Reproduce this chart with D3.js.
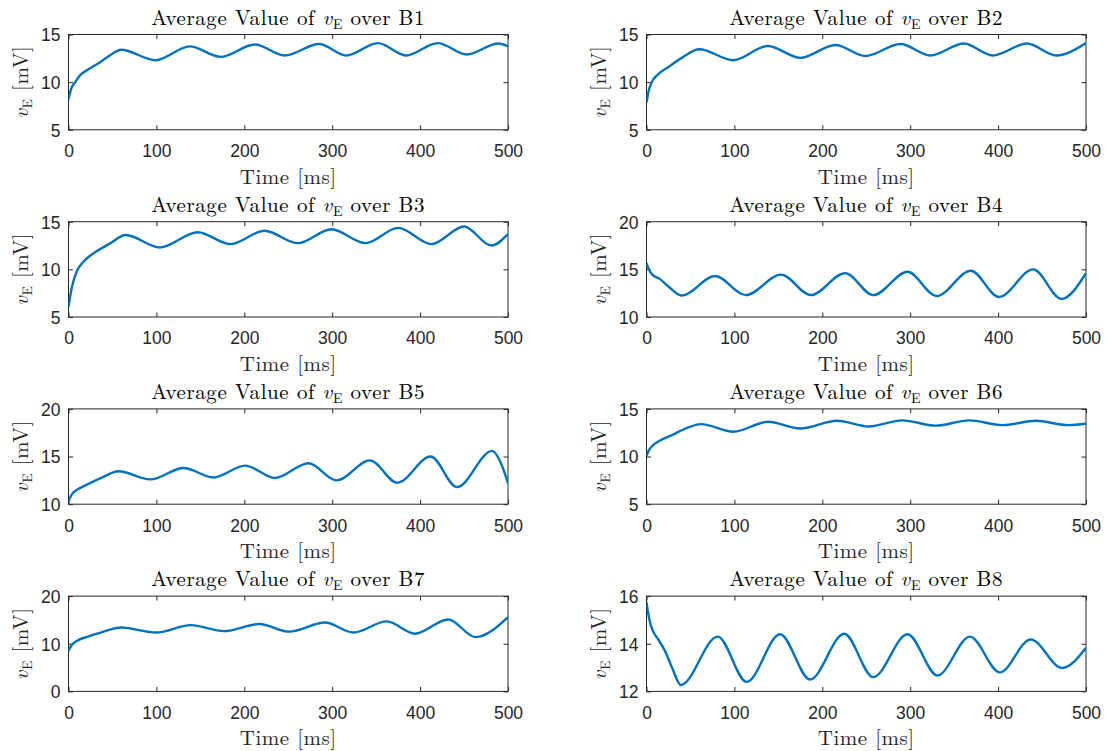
<!DOCTYPE html>
<html>
<head>
<meta charset="utf-8">
<script src="https://cdn.jsdelivr.net/npm/d3@7"></script>
<style>
    body { margin: 0; background: #fff; }
    svg { display: block; }
</style>
</head>
<body>
<svg id="chart" width="1110" height="751"></svg>
<script>
// [time ms, v_E mV] (extrema plus a few points on the initial transient)
const B1 = [[0,8.2],[3,9.3],[7.6,10.0],[13,10.7],[21,11.25],[36,12.1],[47,12.8],[60,13.4],[99,12.3],[138,13.75],[173,12.65],[212,13.95],[246,12.8],[285,14.0],[316,12.8],[352,14.1],[384,12.8],[420,14.1],[453,12.9],[489,14.05],[500,13.75]]
const B2 = [[0,7.85],[2,8.9],[6,10.0],[13,10.8],[25,11.6],[41,12.6],[60,13.45],[99,12.3],[138,13.8],[175,12.55],[215,13.9],[249,12.75],[289,14.0],[323,12.8],[361,14.05],[394,12.8],[433,14.05],[466,12.8],[500,14.1]]
const B3 = [[0,6.1],[4,8.2],[9.5,9.8],[17,10.8],[32,11.9],[47,12.7],[65,13.6],[104,12.3],[147,13.9],[184,12.65],[223,14.05],[261,12.75],[299,14.2],[338,12.75],[375,14.35],[413,12.65],[450,14.5],[481,12.5],[500,13.7]]
const B4 = [[0,15.65],[3,14.95],[6,14.5],[15,14.0],[25,13.2],[40,12.25],[78,14.3],[113,12.3],[153,14.45],[187,12.3],[226,14.6],[258,12.3],[297,14.75],[330,12.2],[369,14.85],[401,12.1],[440,15.0],[472,11.9],[500,14.6]]
const B5 = [[0,10.3],[4,11.05],[9.5,11.5],[21,12.05],[36,12.7],[57,13.45],[93,12.6],[131,13.8],[165,12.8],[201,14.05],[235,12.75],[273,14.3],[305,12.5],[343,14.6],[374,12.25],[412,15.0],[442,11.8],[482,15.6],[492,14.3],[500,12.2]]
const B6 = [[0,10.07],[3,10.7],[7,11.15],[15,11.65],[29,12.25],[45,12.95],[62,13.4],[99,12.6],[138,13.65],[175,12.95],[217,13.75],[253,13.15],[291,13.8],[329,13.25],[367,13.8],[405,13.3],[443,13.75],[480,13.3],[500,13.45]]
const B7 = [[0,8.55],[4,9.8],[9.5,10.6],[21,11.45],[36,12.3],[60,13.4],[100,12.35],[139,13.9],[177,12.65],[217,14.15],[251,12.55],[292,14.45],[324,12.35],[362,14.7],[394,12.1],[432,15.1],[463,11.4],[500,15.6]]
const B8 = [[0,15.75],[2,15.26],[4.4,14.84],[7,14.56],[13,14.2],[21,13.7],[29,13.0],[39,12.27],[81,14.3],[114,12.4],[152,14.4],[186,12.5],[225,14.42],[258,12.6],[297,14.4],[331,12.67],[368,14.3],[402,12.8],[437,14.18],[473,12.98],[500,13.83]]

const regions = ['B1', 'B2', 'B3', 'B4', 'B5', 'B6', 'B7', 'B8']
const series = [B1, B2, B3, B4, B5, B6, B7, B8]
const yDomains = [[5,15],[5,15],[5,15],[10,20],[10,20],[5,15],[0,20],[12,16]]
const yTickVals = [[5,10,15],[5,10,15],[5,10,15],[10,15,20],[10,15,20],[5,10,15],[0,10,20],[12,14,16]]
const xTickVals = [0, 100, 200, 300, 400, 500]

const colX = [68.5, 646.5]
const rowY = [34.5, 221.7, 408.9, 596.1]
const W = 439.5, H = 95.3
const tick = 4.5
const serif = '"Latin Modern Roman", "CMU Serif", "Liberation Serif", serif'
const sans = '"Liberation Sans", Arial, Helvetica, sans-serif'
const ink = '#262626'
const fmt = d3.format('d')

const svg = d3.select('#chart')

series.forEach((data, i) => {
    let left = colX[i % 2], top = rowY[Math.floor(i / 2)]
    let x = d3.scaleLinear().domain([0, 500]).range([0, W])
    let y = d3.scaleLinear().domain(yDomains[i]).range([H, 0])

    let g = svg.append('g').attr('transform', `translate(${left},${top})`)

    g.append('clipPath').attr('id', 'clip' + i)
        .append('rect').attr('width', W).attr('height', H)

    let styleAxis = a => {
        a.select('.domain').remove()
        a.selectAll('line').attr('stroke', ink)
        a.selectAll('text').attr('fill', ink).style('font-family', sans).style('font-size', '17.5px')
    }

    g.append('g').attr('transform', `translate(0,${H})`)
        .call(d3.axisBottom(x).tickValues(xTickVals).tickFormat(fmt).tickSizeInner(-tick).tickSizeOuter(0).tickPadding(15))
        .call(styleAxis)
    g.append('g')
        .call(d3.axisTop(x).tickValues(xTickVals).tickSizeInner(-tick).tickSizeOuter(0).tickFormat(''))
        .call(styleAxis)
    g.append('g')
        .call(d3.axisLeft(y).tickValues(yTickVals[i]).tickFormat(fmt).tickSizeInner(-tick).tickSizeOuter(0).tickPadding(8))
        .call(styleAxis)
        .selectAll('text').attr('dy', '0.36em')
    g.append('g').attr('transform', `translate(${W},0)`)
        .call(d3.axisRight(y).tickValues(yTickVals[i]).tickSizeInner(-tick).tickSizeOuter(0).tickFormat(''))
        .call(styleAxis)

    g.append('rect')
        .attr('width', W).attr('height', H)
        .attr('fill', 'none').attr('stroke', ink).attr('stroke-width', 1)

    g.append('path')
        .datum(data)
        .attr('clip-path', `url(#clip${i})`)
        .attr('fill', 'none')
        .attr('stroke', '#0072BD')
        .attr('stroke-width', 2.4)
        .attr('d', d3.line().x(d => x(d[0])).y(d => y(d[1])).curve(d3.curveMonotoneX))

    // title
    let title = g.append('text')
        .attr('x', W / 2).attr('y', -10)
        .attr('text-anchor', 'middle')
        .style('font-family', serif).style('font-size', '21px')
        .style('letter-spacing', '0.6px')
        .attr('fill', '#000')
    title.append('tspan').text('Average Value of ')
    title.append('tspan').style('font-style', 'italic').text('v')
    title.append('tspan').style('font-size', '14px').attr('dy', 4).text('E')
    title.append('tspan').attr('dy', -4).text(' over ' + regions[i])

    // x label
    g.append('text')
        .attr('x', W / 2).attr('y', H + 54)
        .attr('text-anchor', 'middle')
        .style('font-family', serif).style('font-size', '21px')
        .style('letter-spacing', '0.5px')
        .attr('fill', ink)
        .text('Time [ms]')

    // y label
    let yl = g.append('text')
        .attr('transform', `translate(-41,${H / 2}) rotate(-90)`)
        .attr('text-anchor', 'middle')
        .style('font-family', serif).style('font-size', '21px')
        .style('letter-spacing', '0.5px')
        .attr('fill', ink)
    yl.append('tspan').style('font-style', 'italic').text('v')
    yl.append('tspan').style('font-size', '14px').attr('dy', 4).text('E')
    yl.append('tspan').attr('dy', -4).text(' [mV]')
})
</script>
</body>
</html>
